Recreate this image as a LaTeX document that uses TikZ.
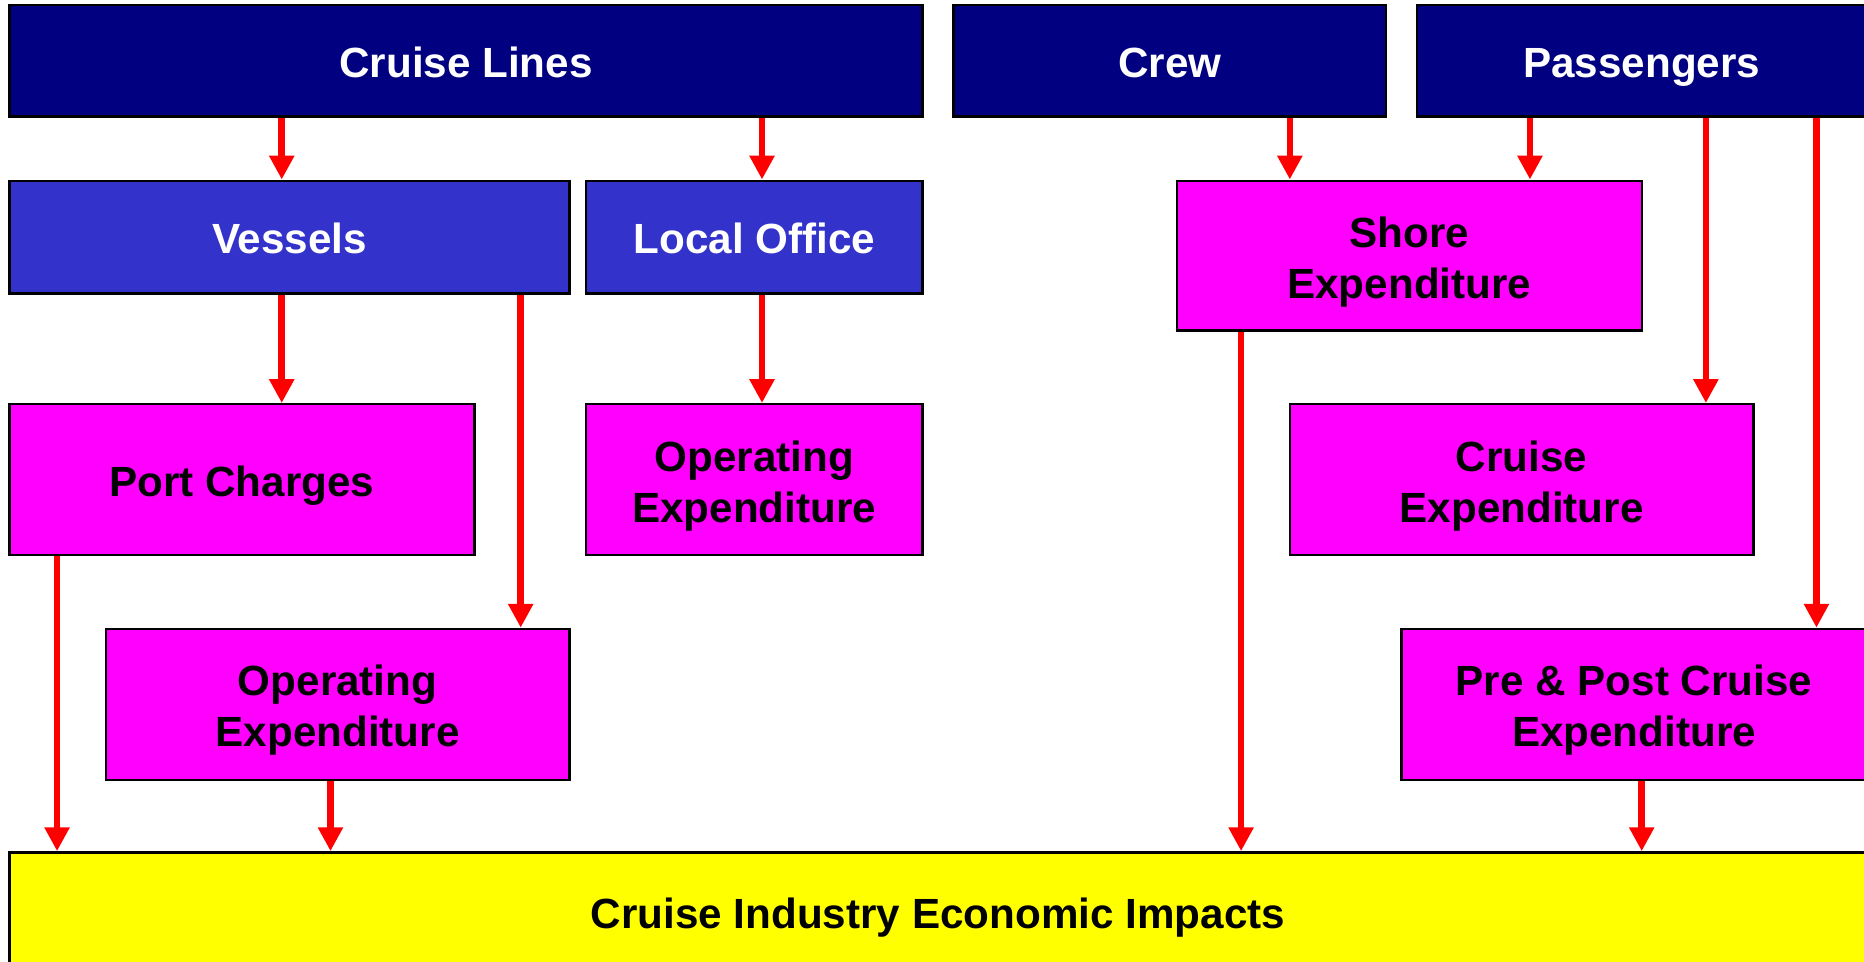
\documentclass[tikz,border=0pt]{standalone}
\usepackage{fontspec}
\setmainfont{Liberation Sans}
\usetikzlibrary{arrows.meta}
\definecolor{navy}{RGB}{0,0,128}
\definecolor{vblue}{RGB}{51,51,204}
\definecolor{mag}{RGB}{255,0,255}
\definecolor{yel}{RGB}{255,255,0}
\newcommand{\twolines}[2]{\raisebox{-5.7pt}[\height][\depth]{\begin{tabular}{@{}c@{}}#1\\#2\end{tabular}}}
\begin{document}
\begin{tikzpicture}[x=1pt,y=-1pt,
 box/.style={draw=black,line width=2pt,inner sep=0pt,align=center,font=\fontsize{35.5}{43}\selectfont\bfseries},
 oneline/.style={text height=28pt,text depth=0pt},
 topbox/.style={box,oneline,fill=navy,text=white},
 midbox/.style={box,oneline,fill=vblue,text=white},
 expbox/.style={box,fill=mag,text=black},
 impbox/.style={box,oneline,fill=yel,text=black},
 arr/.style={draw=red,line width=5.5pt,-{Triangle[width=20pt,length=20pt]},fill=red}]
\useasboundingbox (0,0) rectangle (1568,809);
\clip (0,0) rectangle (1568,809);
\fill[white] (0,0) rectangle (1568,809);
% top row
\node[topbox,minimum width=768pt,minimum height=94pt] (cl) at (392,51) {Cruise Lines};
\node[topbox,minimum width=364pt,minimum height=94pt] (crew) at (984,51) {Crew};
\node[topbox,minimum width=378pt,minimum height=94pt] (pax) at (1381,51) {Passengers};
% second row
\node[midbox,minimum width=471pt,minimum height=95pt] (ves) at (243.5,199.5) {Vessels};
\node[midbox,minimum width=283pt,minimum height=95pt] (lo) at (634.5,199.5) {Local Office};
\node[expbox,minimum width=391pt,minimum height=126pt] (shore) at (1185.5,215) {\twolines{Shore}{Expenditure}};
% third row
\node[expbox,oneline,minimum width=391pt,minimum height=127pt] (port) at (203.5,403.5) {Port Charges};
\node[expbox,minimum width=283pt,minimum height=127pt] (opl) at (634.5,403.5) {\twolines{Operating}{Expenditure}};
\node[expbox,minimum width=390pt,minimum height=127pt] (cruise) at (1280,403.5) {\twolines{Cruise}{Expenditure}};
% fourth row
\node[expbox,minimum width=390pt,minimum height=127pt] (opv) at (284,592.5) {\twolines{Operating}{Expenditure}};
\node[expbox,minimum width=391pt,minimum height=127pt] (pre) at (1374.5,592.5) {\twolines{Pre \& Post Cruise}{Expenditure}};
% bottom
\node[impbox,minimum width=1562pt,minimum height=100pt] (imp) at (789,767) {Cruise Industry Economic Impacts};
% arrow columns
\coordinate (c1) at (237,0);
\coordinate (c2) at (641,0);
\coordinate (c3) at (1085,0);
\coordinate (c4) at (1287,0);
\coordinate (c5) at (1435,0);
\coordinate (c6) at (1528,0);
\coordinate (c7) at (438,0);
\coordinate (c8) at (1044,0);
\coordinate (c9) at (48,0);
\coordinate (c10) at (278,0);
\coordinate (c11) at (1381,0);
% arrows
\draw[arr] (cl.south -| c1) -- (ves.north -| c1);
\draw[arr] (cl.south -| c2) -- (lo.north -| c2);
\draw[arr] (crew.south -| c3) -- (shore.north -| c3);
\draw[arr] (pax.south -| c4) -- (shore.north -| c4);
\draw[arr] (pax.south -| c5) -- (cruise.north -| c5);
\draw[arr] (pax.south -| c6) -- (pre.north -| c6);
\draw[arr] (ves.south -| c1) -- (port.north -| c1);
\draw[arr] (ves.south -| c7) -- (opv.north -| c7);
\draw[arr] (lo.south -| c2) -- (opl.north -| c2);
\draw[arr] (shore.south -| c8) -- (imp.north -| c8);
\draw[arr] (port.south -| c9) -- (imp.north -| c9);
\draw[arr] (opv.south -| c10) -- (imp.north -| c10);
\draw[arr] (pre.south -| c11) -- (imp.north -| c11);
\end{tikzpicture}
\end{document}
